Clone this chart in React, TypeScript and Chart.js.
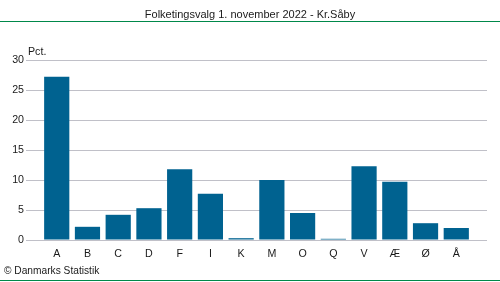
import React, { useEffect, useRef } from "react";
import { Chart, registerables } from "chart.js";

Chart.register(...registerables);

const categories = ["A", "B", "C", "D", "F", "I", "K", "M", "O", "Q", "V", "Æ", "Ø", "Å"];
const values = [27.2, 2.2, 4.2, 5.3, 11.8, 7.7, 0.3, 10.0, 4.5, 0.2, 12.3, 9.7, 2.8, 2.0];
const yTicks = [0, 5, 10, 15, 20, 25, 30];
const titleText = "Folketingsvalg 1. november 2022 - Kr.Såby";
const unitText = "Pct.";
const sourceText = "© Danmarks Statistik";

const FONT = "'Liberation Sans', Arial, sans-serif";

const decorPlugin = {
  id: "decor",
  afterDraw(chart: any) {
    const ctx = chart.ctx;
    ctx.save();
    ctx.fillStyle = "#00884a";
    ctx.fillRect(0, 21, 500, 1);
    ctx.fillRect(0, 280, 500, 1);
    ctx.fillStyle = "#1a1a1a";
    ctx.font = `11px ${FONT}`;
    ctx.textAlign = "center";
    ctx.textBaseline = "middle";
    ctx.fillText(titleText, 250, 14.5);
    ctx.textAlign = "left";
    ctx.font = `10.67px ${FONT}`;
    ctx.fillText(unitText, 28, 52);
    ctx.font = `10.2px ${FONT}`;
    ctx.fillText(sourceText, 4, 271);
    ctx.restore();
  },
};

export default function App() {
  const ref = useRef<HTMLCanvasElement>(null);
  useEffect(() => {
    document.body.style.margin = "0";
    const labels = ["", ...categories, ""];
    const data = [null, ...values, null];
    const chart = new Chart(ref.current!, {
      type: "bar",
      data: {
        labels,
        datasets: [
          {
            data: data as any,
            backgroundColor: "#006290",
            barPercentage: 0.82,
            categoryPercentage: 1,
          },
        ],
      },
      options: {
        responsive: false,
        animation: false,
        devicePixelRatio: 1,
        layout: { padding: { left: 0, right: 13, top: 60, bottom: 0 } },
        plugins: { legend: { display: false }, title: { display: false }, tooltip: { enabled: false } },
        scales: {
          x: {
            offset: false,
            grid: { display: false, drawTicks: false },
            border: { display: false },
            ticks: { color: "#1a1a1a", font: { family: FONT, size: 10.67 }, padding: 8, autoSkip: false, maxRotation: 0 },
            afterFit(scale: any) {
              scale.height = 42;
            },
          },
          y: {
            min: 0,
            max: 30,
            grid: { color: "#c0c0c8", drawTicks: false },
            border: { display: false },
            afterBuildTicks(scale: any) {
              scale.ticks = yTicks.map((v) => ({ value: v }));
            },
            ticks: { color: "#1a1a1a", font: { family: FONT, size: 10.67 }, padding: 2 },
            afterFit(scale: any) {
              scale.width = 26;
            },
          },
        },
      },
      plugins: [decorPlugin],
    });
    return () => chart.destroy();
  }, []);
  return (
    <div style={{ position: "absolute", left: 0, top: 0, width: 500, height: 282, background: "#fff" }}>
      <canvas ref={ref} width={500} height={282} />
    </div>
  );
}
